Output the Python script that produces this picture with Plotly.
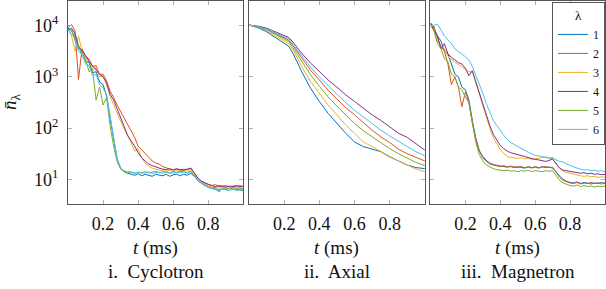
import plotly.graph_objects as go

# ---------------- data (log10 of n̄_λ) ----------------
t_noisy = [round(0.02 * i, 2) for i in range(51)]
t_axial = [0, 0.05, 0.10, 0.15, 0.20, 0.225, 0.25, 0.30, 0.35, 0.40, 0.45, 0.50,
           0.55, 0.60, 0.65, 0.70, 0.75, 0.80, 0.85, 0.90, 0.95, 1.0]

lambdas = ["1", "2", "3", "4", "5", "6"]
colors = ["#0072BD", "#D95319", "#EDB120", "#7E2F8E", "#77AC30", "#4DBEEE"]

cyc_1 = [3.95, 3.90, 3.78, 3.55, 3.52, 3.30, 3.28, 3.08, 3.10, 2.90, 2.85, 2.62, 2.20, 1.80, 1.40, 1.22, 1.15, 1.12, 1.10, 1.08,
         1.11, 1.07, 1.10, 1.08, 1.06, 1.10, 1.08, 1.07, 1.10, 1.06, 1.09, 1.10, 1.07, 1.10, 1.08, 1.12, 1.06, 0.98, 0.93, 0.90,
         0.85, 0.82, 0.84, 0.76, 0.82, 0.80, 0.83, 0.81, 0.79, 0.80, 0.78]
cyc_2 = [3.96, 4.02, 3.90, 2.95, 3.55, 3.40, 3.35, 3.20, 3.22, 3.05, 3.05, 2.92, 2.72, 2.60, 2.45, 2.32, 2.18, 2.05, 1.95, 1.82,
         1.65, 1.58, 1.50, 1.42, 1.36, 1.32, 1.30, 1.25, 1.22, 1.20, 1.19, 1.21, 1.18, 1.20, 1.19, 1.22, 1.12, 1.02, 0.96, 0.93,
         0.90, 0.88, 0.90, 0.86, 0.87, 0.88, 0.85, 0.87, 0.86, 0.88, 0.85]
cyc_3 = [3.93, 3.80, 3.50, 3.80, 3.50, 3.38, 3.30, 3.15, 3.18, 3.00, 3.02, 2.85, 2.62, 2.45, 2.30, 2.14, 1.98, 1.85, 1.72, 1.55,
         1.60, 1.42, 1.32, 1.26, 1.22, 1.20, 1.18, 1.17, 1.16, 1.18, 1.15, 1.17, 1.16, 1.18, 1.16, 1.19, 1.10, 1.00, 0.94, 0.90,
         0.87, 0.85, 0.86, 0.83, 0.85, 0.84, 0.82, 0.85, 0.83, 0.84, 0.82]
cyc_4 = [3.92, 3.95, 3.85, 3.60, 3.50, 3.42, 3.30, 3.22, 3.15, 3.05, 3.00, 2.88, 2.66, 2.55, 2.38, 2.20, 2.00, 1.86, 1.75, 1.65,
         1.52, 1.42, 1.36, 1.30, 1.27, 1.24, 1.22, 1.20, 1.19, 1.21, 1.18, 1.20, 1.19, 1.18, 1.20, 1.22, 1.13, 1.03, 0.97, 0.93,
         0.90, 0.88, 0.86, 0.88, 0.87, 0.85, 0.87, 0.86, 0.88, 0.86, 0.87]
cyc_5 = [3.90, 3.95, 3.70, 3.62, 3.40, 3.35, 3.10, 3.15, 2.55, 2.80, 2.45, 2.60, 2.05, 1.65, 1.35, 1.20, 1.15, 1.13, 1.15, 1.12,
         1.14, 1.13, 1.15, 1.12, 1.14, 1.16, 1.13, 1.15, 1.14, 1.12, 1.15, 1.13, 1.16, 1.14, 1.13, 1.16, 1.08, 0.98, 0.93, 0.88,
         0.85, 0.83, 0.82, 0.80, 0.82, 0.83, 0.81, 0.84, 0.82, 0.83, 0.81]
cyc_6 = [3.93, 3.85, 3.75, 3.50, 3.45, 3.25, 3.22, 3.02, 3.05, 2.85, 2.78, 2.65, 2.25, 1.85, 1.40, 1.22, 1.17, 1.15, 1.14, 1.12,
         1.14, 1.12, 1.13, 1.15, 1.12, 1.13, 1.14, 1.12, 1.15, 1.13, 1.12, 1.14, 1.13, 1.15, 1.12, 1.15, 1.08, 0.98, 0.92, 0.88,
         0.84, 0.82, 0.80, 0.78, 0.81, 0.79, 0.78, 0.81, 0.80, 0.79, 0.80]

axi_1 = [4.01, 3.96, 3.88, 3.77, 3.66, 3.60, 3.46, 3.10, 2.78, 2.52, 2.29, 2.09, 1.90, 1.73, 1.64, 1.59, 1.54, 1.44, 1.36, 1.28, 1.23, 1.21]
axi_2 = [4.01, 3.98, 3.93, 3.85, 3.77, 3.72, 3.61, 3.36, 3.13, 2.94, 2.74, 2.57, 2.40, 2.26, 2.11, 1.96, 1.83, 1.72, 1.59, 1.50, 1.43, 1.36]
axi_3 = [4.01, 3.97, 3.90, 3.80, 3.71, 3.65, 3.53, 3.20, 2.91, 2.68, 2.45, 2.26, 2.06, 1.90, 1.73, 1.64, 1.54, 1.45, 1.36, 1.28, 1.20, 1.15]
axi_4 = [4.01, 3.99, 3.95, 3.88, 3.81, 3.77, 3.68, 3.46, 3.27, 3.10, 2.94, 2.80, 2.65, 2.52, 2.39, 2.26, 2.15, 2.03, 1.90, 1.82, 1.70, 1.57]
axi_5 = [4.01, 3.97, 3.92, 3.83, 3.74, 3.69, 3.57, 3.30, 3.04, 2.82, 2.61, 2.43, 2.26, 2.09, 1.95, 1.83, 1.71, 1.60, 1.50, 1.41, 1.33, 1.27]
axi_6 = [4.01, 3.98, 3.93, 3.86, 3.79, 3.75, 3.64, 3.41, 3.19, 3.00, 2.82, 2.66, 2.50, 2.35, 2.22, 2.09, 1.96, 1.85, 1.74, 1.64, 1.54, 1.46]

mag_1 = [4.05, 3.95, 3.80, 3.70, 3.50, 3.45, 3.25, 3.05, 3.00, 2.80, 2.75, 2.55, 2.15, 1.80, 1.56, 1.45, 1.37, 1.32, 1.29, 1.27,
         1.26, 1.25, 1.24, 1.25, 1.23, 1.25, 1.24, 1.22, 1.25, 1.23, 1.24, 1.22, 1.25, 1.23, 1.24, 1.22, 1.15, 1.06, 1.00, 0.96,
         0.94, 0.93, 0.95, 0.92, 0.94, 0.93, 0.91, 0.93, 0.92, 0.94, 0.92]
mag_2 = [4.02, 3.98, 3.75, 3.60, 3.50, 3.25, 2.85, 3.00, 2.80, 2.42, 2.70, 2.50, 2.10, 1.78, 1.55, 1.42, 1.35, 1.30, 1.28, 1.26,
         1.25, 1.27, 1.24, 1.26, 1.24, 1.23, 1.25, 1.23, 1.24, 1.22, 1.25, 1.23, 1.24, 1.25, 1.23, 1.24, 1.14, 1.04, 0.98, 0.95,
         0.93, 0.92, 0.94, 0.91, 0.93, 0.92, 0.94, 0.92, 0.93, 0.91, 0.93]
mag_3 = [4.03, 3.92, 3.70, 3.60, 3.55, 3.40, 3.35, 3.28, 3.25, 3.20, 3.15, 3.10, 3.10, 2.88, 2.65, 2.42, 2.20, 2.00, 1.82, 1.70,
         1.58, 1.50, 1.45, 1.43, 1.42, 1.41, 1.42, 1.40, 1.41, 1.39, 1.40, 1.41, 1.42, 1.44, 1.42, 1.40, 1.32, 1.22, 1.16, 1.13,
         1.12, 1.10, 1.08, 1.07, 1.06, 1.07, 1.05, 1.06, 1.04, 1.05, 1.04]
mag_4 = [4.05, 3.90, 3.80, 3.55, 3.65, 3.45, 3.38, 3.33, 3.28, 3.25, 3.17, 3.02, 3.12, 2.90, 2.68, 2.48, 2.25, 2.05, 1.88, 1.76,
         1.66, 1.60, 1.55, 1.52, 1.50, 1.48, 1.47, 1.45, 1.43, 1.41, 1.39, 1.38, 1.36, 1.35, 1.37, 1.40, 1.30, 1.22, 1.18, 1.17,
         1.16, 1.15, 1.14, 1.12, 1.13, 1.11, 1.12, 1.10, 1.11, 1.09, 1.10]
mag_5 = [4.00, 3.90, 3.65, 3.55, 3.35, 3.30, 3.05, 3.00, 2.80, 2.75, 2.60, 2.50, 2.10, 1.72, 1.48, 1.36, 1.28, 1.24, 1.21, 1.19,
         1.18, 1.17, 1.18, 1.16, 1.17, 1.15, 1.17, 1.16, 1.18, 1.15, 1.17, 1.16, 1.15, 1.17, 1.16, 1.17, 1.07, 0.98, 0.93, 0.90,
         0.88, 0.87, 0.89, 0.86, 0.88, 0.86, 0.87, 0.85, 0.87, 0.86, 0.87]
mag_6 = [4.06, 4.00, 4.03, 3.90, 3.80, 3.72, 3.65, 3.55, 3.49, 3.45, 3.38, 3.33, 3.20, 3.03, 2.85, 2.68, 2.48, 2.32, 2.15, 2.05,
         1.95, 1.86, 1.78, 1.72, 1.68, 1.64, 1.61, 1.57, 1.53, 1.50, 1.47, 1.46, 1.44, 1.42, 1.41, 1.43, 1.38, 1.35, 1.34, 1.30,
         1.27, 1.25, 1.22, 1.20, 1.18, 1.19, 1.17, 1.18, 1.16, 1.17, 1.15]

panels = [
    ("i.  Cyclotron", t_noisy, [cyc_1, cyc_2, cyc_3, cyc_4, cyc_5, cyc_6]),
    ("ii.  Axial", t_axial, [axi_1, axi_2, axi_3, axi_4, axi_5, axi_6]),
    ("iii.  Magnetron", t_noisy, [mag_1, mag_2, mag_3, mag_4, mag_5, mag_6]),
]

x_ticks = [0.2, 0.4, 0.6, 0.8]
x_tick_labels = ["0.2", "0.4", "0.6", "0.8"]
y_tick_exps = [1, 2, 3, 4]

# ---------------- figure ----------------
W, H = 606, 289
ML, MR, MT, MB = 68, 1, 1, 85
FONT = "Liberation Serif, Times New Roman, serif"
domains = [[0.0, 0.3266], [0.337, 0.6645], [0.675, 1.0]]

fig = go.Figure()
for p, (name, tt, series) in enumerate(panels):
    xa = "x" if p == 0 else f"x{p+1}"
    ya = "y" if p == 0 else f"y{p+1}"
    for k, s in enumerate(series):
        fig.add_trace(go.Scatter(
            x=tt, y=[10 ** v for v in s], mode="lines",
            line=dict(color=colors[k], width=1),
            name=lambdas[k], legendgroup=lambdas[k],
            showlegend=(p == 2), xaxis=xa, yaxis=ya,
        ))

axis_common = dict(
    showline=True, linecolor="#555555", linewidth=1, mirror="ticks",
    ticks="inside", ticklen=4, tickcolor="#b0b0b0", tickwidth=1,
    showgrid=False, zeroline=False, automargin=False,
    tickfont=dict(family=FONT, size=18, color="#111111"),
)

layout = dict(
    width=W, height=H,
    margin=dict(l=ML, r=MR, t=MT, b=MB, autoexpand=False),
    paper_bgcolor="white", plot_bgcolor="white",
    font=dict(family=FONT, color="#111111"),
    showlegend=True,
    legend=dict(
        x=1.0, y=0.995, xanchor="right", yanchor="top",
        bgcolor="white", bordercolor="#555555", borderwidth=1,
        font=dict(family=FONT, size=12, color="#111111"),
        title=dict(text="λ", side="top center", font=dict(family=FONT, size=13)),
        tracegroupgap=0, itemwidth=30,
    ),
)
for p in range(3):
    xk = "xaxis" if p == 0 else f"xaxis{p+1}"
    yk = "yaxis" if p == 0 else f"yaxis{p+1}"
    layout[xk] = dict(axis_common, domain=domains[p], range=[0, 1],
                      tickvals=x_ticks, ticktext=x_tick_labels,
                      anchor="y" if p == 0 else f"y{p+1}", ticklabelstandoff=3)
    layout[yk] = dict(axis_common, type="log", range=[0.52, 4.48],
                      tickvals=[10 ** e for e in y_tick_exps],
                      ticktext=[f"10<sup>{e}</sup>" for e in y_tick_exps],
                      showticklabels=(p == 0),
                      anchor="x" if p == 0 else f"x{p+1}", ticklabelstandoff=5)
fig.update_layout(**layout)

ann = []
for p, (name, tt, series) in enumerate(panels):
    xc = (domains[p][0] + domains[p][1]) / 2
    ann.append(dict(text="<i>t</i> (ms)", x=xc, y=-0.218, xref="paper", yref="paper",
                    showarrow=False, xanchor="center", yanchor="middle",
                    font=dict(family=FONT, size=19, color="#111111")))
    ann.append(dict(text=name, x=xc, y=-0.332, xref="paper", yref="paper",
                    showarrow=False, xanchor="center", yanchor="middle",
                    font=dict(family=FONT, size=19, color="#111111")))
ann.append(dict(text="<i>n̄</i><sub>λ</sub>", x=-0.105, y=0.505, xref="paper", yref="paper",
                showarrow=False, xanchor="center", yanchor="middle", textangle=-90,
                font=dict(family=FONT, size=19, color="#111111")))
fig.update_layout(annotations=ann)

fig.write_html("out.html", config={"displayModeBar": False},
               post_script="document.body.style.margin='0px';")
